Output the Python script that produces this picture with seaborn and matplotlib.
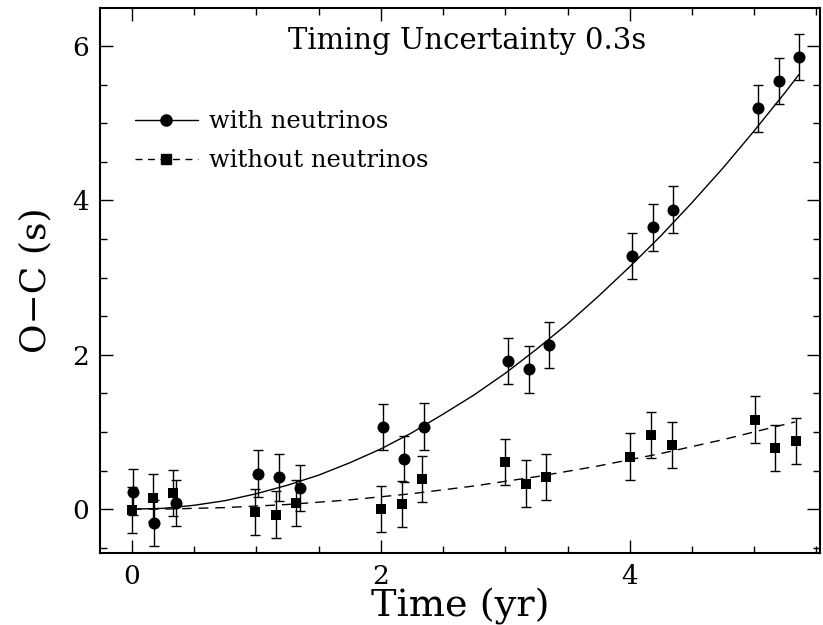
import numpy as np
import pandas as pd
import matplotlib
matplotlib.use("Agg")
import matplotlib.pyplot as plt
import seaborn as sns
from matplotlib.lines import Line2D
from matplotlib.ticker import MultipleLocator

# ---- data ----
t_with = [0.01, 0.18, 0.35, 1.01, 1.18, 1.35, 2.02, 2.19, 2.35,
          3.02, 3.19, 3.35, 4.02, 4.19, 4.35, 5.03, 5.20, 5.36]
oc_with = [0.22, -0.18, 0.08, 0.46, 0.41, 0.27, 1.06, 0.65, 1.07,
           1.92, 1.81, 2.13, 3.28, 3.65, 3.88, 5.19, 5.55, 5.86]
t_without = [0.0, 0.17, 0.33, 0.99, 1.16, 1.32, 2.0, 2.17, 2.33,
             3.0, 3.17, 3.33, 4.0, 4.17, 4.34, 5.01, 5.17, 5.34]
oc_without = [-0.01, 0.15, 0.21, -0.04, -0.07, 0.08, 0.0, 0.07, 0.39,
              0.61, 0.33, 0.42, 0.68, 0.96, 0.83, 1.16, 0.79, 0.88]
err = 0.3

# model curves
curve_t_with = [0, 0.25, 0.5, 0.75, 1, 1.25, 1.5, 1.75, 2, 2.25, 2.5, 2.75,
                3, 3.25, 3.5, 3.75, 4, 4.25, 4.5, 4.75, 5, 5.25, 5.36]
curve_with = [0, 0.01, 0.05, 0.11, 0.2, 0.31, 0.44, 0.6, 0.78, 0.99, 1.23, 1.48,
              1.76, 2.07, 2.4, 2.76, 3.14, 3.54, 3.97, 4.42, 4.9, 5.4, 5.63]
curve_t_without = [0, 0.25, 0.5, 0.75, 1, 1.25, 1.5, 1.75, 2, 2.25, 2.5, 2.75,
                   3, 3.25, 3.5, 3.75, 4, 4.25, 4.5, 4.75, 5, 5.33]
curve_without = [0, 0.0, 0.01, 0.02, 0.04, 0.06, 0.09, 0.12, 0.16, 0.2, 0.25, 0.3,
                 0.36, 0.42, 0.49, 0.56, 0.64, 0.72, 0.81, 0.9, 1.0, 1.13]

title_text = "Timing Uncertainty 0.3s"
label_with = "with neutrinos"
label_without = "without neutrinos"

# ---- style ----
sns.set_style("ticks")
plt.rcParams["font.family"] = ["DejaVu Serif"]
plt.rcParams["text.color"] = "black"
plt.rcParams["axes.labelcolor"] = "black"
plt.rcParams["xtick.color"] = "black"
plt.rcParams["ytick.color"] = "black"

fig = plt.figure(figsize=(8.23, 6.25), dpi=100)
ax = fig.add_axes([0.1215, 0.115, 0.875, 0.872])

# curves
sns.lineplot(x=curve_t_with, y=curve_with, ax=ax, color="black", lw=1.0,
             estimator=None, sort=False)
sns.lineplot(x=curve_t_without, y=curve_without, ax=ax, color="black", lw=1.0,
             estimator=None, sort=False, dashes=False, linestyle=(0, (7, 5)))

# error bars
ax.errorbar(t_with, oc_with, yerr=err, fmt="none", ecolor="black",
            elinewidth=1.0, capsize=3.5, capthick=1.0)
ax.errorbar(t_without, oc_without, yerr=err, fmt="none", ecolor="black",
            elinewidth=1.0, capsize=3.5, capthick=1.0)

# markers
sns.scatterplot(x=t_with, y=oc_with, ax=ax, marker="o", s=75, color="black",
                edgecolor="black", linewidth=0, zorder=5)
sns.scatterplot(x=t_without, y=oc_without, ax=ax, marker="s", s=48, color="black",
                edgecolor="black", linewidth=0, zorder=5)

ax.set_xlim(-0.257, 5.53)
ax.set_ylim(-0.57, 6.49)

ax.xaxis.set_major_locator(MultipleLocator(2))
ax.xaxis.set_minor_locator(MultipleLocator(0.5))
ax.yaxis.set_major_locator(MultipleLocator(2))
ax.yaxis.set_minor_locator(MultipleLocator(0.5))
ax.tick_params(which="both", direction="in", top=True, right=True, width=1.0,
               color="black", labelcolor="black")
ax.tick_params(which="major", length=9.5, labelsize=19, pad=8)
ax.tick_params(which="minor", length=5)
for sp in ax.spines.values():
    sp.set_linewidth(1.5)
    sp.set_color("black")

ax.set_xlabel("Time (yr)", fontsize=27.5, labelpad=-1, color="black")
ax.set_ylabel("O\u2212C (s)", fontsize=26, labelpad=14, color="black")

ax.text(0.51, 0.94, title_text, transform=ax.transAxes, ha="center", va="center",
        fontsize=21, color="black")

handles = [
    Line2D([0], [0], color="black", lw=1.0, marker="o", markersize=8),
    Line2D([0], [0], color="black", lw=1.0, marker="s", markersize=6.5,
           linestyle=(0, (5, 4))),
]
leg = ax.legend(handles, [label_with, label_without], loc="upper left",
                bbox_to_anchor=(0.018, 0.853), frameon=False, fontsize=17.5,
                handlelength=2.6, handletextpad=0.45, labelspacing=0.66)
for txt in leg.get_texts():
    txt.set_color("black")

fig.savefig("out.png", dpi=100)
